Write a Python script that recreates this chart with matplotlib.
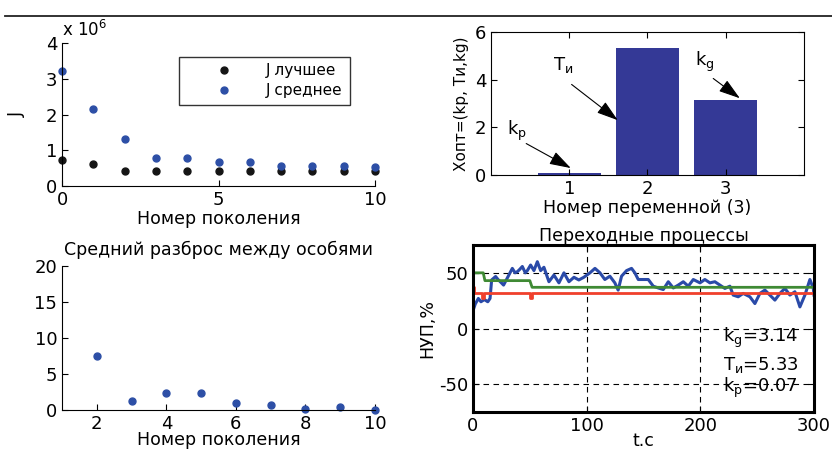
import matplotlib
matplotlib.use("Agg")
import matplotlib.pyplot as plt
from matplotlib.lines import Line2D

plt.rcParams['font.family'] = ['DejaVu Sans']
plt.rcParams['mathtext.default'] = 'regular'
plt.rcParams['axes.unicode_minus'] = False
plt.rcParams['font.size'] = 12

# ---------------- data ----------------
gen = [0, 1, 2, 3, 4, 5, 6, 7, 8, 9, 10]
j_best = [0.72e6, 0.62e6, 0.42e6, 0.42e6, 0.42e6, 0.42e6, 0.42e6, 0.42e6, 0.42e6, 0.42e6, 0.42e6]
j_mean = [3.22e6, 2.15e6, 1.32e6, 0.78e6, 0.78e6, 0.68e6, 0.68e6, 0.55e6, 0.55e6, 0.55e6, 0.52e6]

var_idx = [1, 2, 3]
x_opt = [0.07, 5.33, 3.14]

gen2 = [2, 3, 4, 5, 6, 7, 8, 9, 10]
spread = [7.5, 1.3, 2.4, 2.3, 1.0, 0.7, 0.15, 0.35, 0.05]

blue_t = [0, 2, 4.7, 7, 10, 13, 15, 16.4, 19.9, 22, 24, 26.9, 30, 34.6, 37, 39, 41, 43.4, 46,
          47.8, 50.7, 53.6, 56.6, 59.5, 62.4, 66.8, 71.2, 75.6, 80, 84.4, 88.8, 93.1, 97.5,
          102.9, 107.3, 111.7, 116, 120.4, 124.8, 127.7, 130.7, 135.1, 139.5, 142.4, 145.4,
          149.8, 154.2, 158.6, 163, 167.4, 171.8, 176.2, 180.6, 185, 189.4, 193.8, 199.7,
          204, 208.4, 212.8, 217.2, 221.6, 226, 228.9, 233.3, 237.7, 243.6, 248, 252.4,
          256.8, 261.2, 265.6, 270, 274.4, 278.8, 283.2, 287.6, 292, 296.4, 299.4, 300]
blue_y = [16, 22, 27, 24, 26, 24, 27, 43.6, 46.7, 44, 42, 39, 45, 54, 50, 51, 53, 55.7, 50,
          52, 57, 52, 60, 52, 55, 42, 48, 41, 50, 42, 46, 43.6, 46,
          50, 54, 50, 44, 47, 41, 34.5, 47, 52, 54, 50, 44,
          44, 44, 38, 36.4, 35, 42, 36.4, 39, 42, 38, 44, 41,
          44, 41, 42, 39, 36, 38, 30, 28.5, 31.5, 28.5, 22.4, 31.5,
          34.5, 30, 25.5, 31.5, 36, 30, 33, 19.4, 30, 44, 36, 30]
green_t = [0, 9, 10.5, 50, 52, 300]
green_y = [50, 50, 43, 43, 37, 37]
red_t = [0, 1, 1, 8, 8, 10, 10, 50, 50, 52, 52, 300]
red_y = [37, 37, 32, 32, 27, 27, 32, 32, 27, 27, 32, 32]

BLUE_DOT = '#2d4fa6'
BAR = '#343996'

fig = plt.figure(figsize=(8.32, 4.5), dpi=100)
fig.add_artist(Line2D([0.006, 1.0], [1 - 16/450, 1 - 16/450], color='#222222', lw=1.3))

# ---------------- top-left ----------------
ax1 = fig.add_axes([62/832, 1 - 186/450, 313/832, 143/450])
ax1.plot(gen, [v / 1e6 for v in j_best], 'o', color='#151515', ms=5, label='J лучшее', clip_on=False)
ax1.plot(gen, [v / 1e6 for v in j_mean], 'o', color=BLUE_DOT, ms=5, label='J среднее', clip_on=False)
ax1.set_xlim(0, 10)
ax1.set_ylim(0, 4)
ax1.set_xticks([0, 5, 10])
ax1.set_yticks([0, 1, 2, 3, 4])
for s in ['top', 'right']:
    ax1.spines[s].set_visible(False)
ax1.tick_params(direction='in', length=4, labelsize=13)
ax1.set_xlabel('Номер поколения', labelpad=1, fontsize=12.5)
ax1.set_ylabel('J', labelpad=14, fontsize=12.5)
ax1.text(0.0, 1.02, r'x 10$^6$', transform=ax1.transAxes, ha='left', va='bottom', fontsize=12)
leg = ax1.legend(loc='upper left', bbox_to_anchor=(0.374, 0.905), frameon=True,
                 fancybox=False, edgecolor='black', handlelength=5.0, handletextpad=0.25,
                 labelspacing=0.3, borderpad=0.45, borderaxespad=0, fontsize=11)
leg.get_frame().set_linewidth(1.0)

# ---------------- top-right ----------------
ax2 = fig.add_axes([491/832, 1 - 175/450, 313/832, 143/450])
ax2.bar(var_idx, x_opt, width=0.8, color=BAR)
ax2.set_xlim(0, 4)
ax2.set_ylim(0, 6)
ax2.set_xticks(var_idx)
ax2.set_yticks([0, 2, 4, 6])
ax2.tick_params(direction='in', length=4, top=True, right=True, labelsize=13)
ax2.set_xlabel('Номер переменной (3)', labelpad=1, fontsize=12.5)
ax2.set_ylabel('Xопт=(kp, Ти,kg)', fontsize=11, labelpad=4)
arrow = dict(arrowstyle='-|>,head_length=1.1,head_width=0.35', color='black', lw=0.8,
             mutation_scale=12, shrinkA=0, shrinkB=0)
ax2.annotate('', xy=(1.02, 0.29), xytext=(0.45, 1.32), arrowprops=arrow)
ax2.annotate('', xy=(1.62, 2.3), xytext=(1.03, 3.8), arrowprops=arrow)
ax2.annotate('', xy=(3.18, 3.22), xytext=(2.84, 4.05), arrowprops=arrow)
ax2.text(0.2, 1.85, 'k$_p$', ha='left', va='center', fontsize=13)
ax2.text(0.79, 4.6, 'T$_и$', ha='left', va='center', fontsize=13)
ax2.text(2.61, 4.75, 'k$_g$', ha='left', va='center', fontsize=13)

# ---------------- bottom-left ----------------
ax3 = fig.add_axes([62/832, 1 - 410/450, 313/832, 144/450])
ax3.plot(gen2, spread, 'o', color=BLUE_DOT, ms=5, clip_on=False)
ax3.set_xlim(1, 10)
ax3.set_ylim(0, 20)
ax3.set_xticks([2, 4, 6, 8, 10])
ax3.set_yticks([0, 5, 10, 15, 20])
for s in ['top', 'right']:
    ax3.spines[s].set_visible(False)
ax3.tick_params(direction='in', length=4, labelsize=13)
ax3.set_title('Средний разброс между особями', fontsize=12.5, pad=8)
ax3.set_xlabel('Номер поколения', labelpad=-1, fontsize=12.5)

# ---------------- bottom-right ----------------
ax4 = fig.add_axes([473/832, 1 - 412/450, 341/832, 167/450])
ax4.plot(blue_t, blue_y, color='#2a4aa8', lw=2.2)
ax4.plot(green_t, green_y, color='#3f8a34', lw=2.0)
ax4.plot(red_t, red_y, color='#f0402c', lw=2.0)
ax4.set_xlim(0, 300)
ax4.set_ylim(-75, 75)
ax4.set_xticks([0, 100, 200, 300])
ax4.set_yticks([-50, 0, 50])
ax4.grid(True, color='black', ls=(0, (5, 4)), lw=0.8)
for s in ax4.spines.values():
    s.set_linewidth(2.2)
ax4.tick_params(direction='in', length=4, top=True, right=True, labelsize=13)
ax4.set_title('Переходные процессы', fontsize=12.5, pad=3)
ax4.set_xlabel('t.c', labelpad=-2, fontsize=12.5)
ax4.set_ylabel('НУП,%', labelpad=2, fontsize=12.5)
ax4.text(220, -8, 'k$_g$=3.14', fontsize=13, ha='left', va='center')
ax4.text(220, -33, 'T$_и$=5.33', fontsize=13, ha='left', va='center')
ax4.text(220, -53, 'k$_p$=0.07', fontsize=13, ha='left', va='center')

fig.savefig('out.png', dpi=100)
